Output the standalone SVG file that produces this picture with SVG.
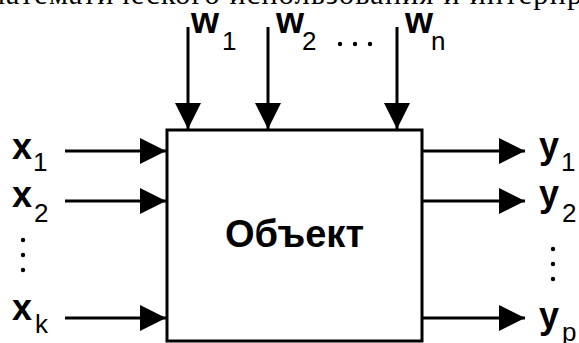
<svg xmlns="http://www.w3.org/2000/svg" width="579" height="343" viewBox="0 0 579 343">
<style>
.top{font-family:"Liberation Serif","Times New Roman",serif;font-size:30px;fill:#000}
.lb{font-family:"Liberation Sans",Arial,sans-serif;font-weight:bold;font-size:36px;fill:#000}
.obj{font-family:"Liberation Sans",Arial,sans-serif;font-weight:bold;font-size:38px;fill:#000}
.sb{font-family:"Liberation Sans",Arial,sans-serif;font-size:26px;fill:#000}
.ln{stroke:#000;stroke-width:3;fill:none;marker-end:url(#ah)}
.box{fill:#fff;stroke:#000;stroke-width:3}
</style>
<defs>
<marker id="ah" markerUnits="userSpaceOnUse" markerWidth="26" markerHeight="26" refX="26" refY="13" orient="auto">
<path d="M0,0 L26,13 L0,26 z" fill="#000"/>
</marker>
</defs>
<rect width="579" height="343" fill="#fff"/>
<text class="top" x="-14" y="4" textLength="596" lengthAdjust="spacing">математического использования и интерпр</text>
<g id="connectors">
<line class="ln" x1="188" y1="27" x2="188" y2="129"/>
<line class="ln" x1="268" y1="27" x2="268" y2="129"/>
<line class="ln" x1="397" y1="27" x2="397" y2="129"/>
<line class="ln" x1="65" y1="151" x2="166" y2="151"/>
<line class="ln" x1="65" y1="201" x2="166" y2="201"/>
<line class="ln" x1="65" y1="318" x2="166" y2="318"/>
<line class="ln" x1="422" y1="151" x2="525" y2="151"/>
<line class="ln" x1="422" y1="201" x2="525" y2="201"/>
<line class="ln" x1="422" y1="318" x2="525" y2="318"/>
</g>
<g id="object">
<rect class="box" x="167" y="130" width="255" height="211"/>
<text class="obj" x="294.5" y="247" text-anchor="middle">Объект</text>
</g>
<g id="w1"><text class="lb" x="191" y="33">w</text><text class="sb" x="222" y="50">1</text></g>
<g id="w2"><text class="lb" x="276" y="33">w</text><text class="sb" x="302" y="50">2</text></g>
<g id="wdots"><circle cx="340" cy="44" r="2.2"/><circle cx="355" cy="44" r="2.2"/><circle cx="370" cy="44" r="2.2"/></g>
<g id="wn"><text class="lb" x="405" y="33">w</text><text class="sb" x="431" y="50">n</text></g>
<g id="x1"><text class="lb" x="12" y="159">x</text><text class="sb" x="33" y="171">1</text></g>
<g id="x2"><text class="lb" x="12" y="207">x</text><text class="sb" x="34" y="222">2</text></g>
<g id="xdots"><circle cx="23" cy="240" r="2.2"/><circle cx="23" cy="255" r="2.2"/><circle cx="23" cy="270" r="2.2"/></g>
<g id="xk"><text class="lb" x="12" y="320">x</text><text class="sb" x="35" y="333">k</text></g>
<g id="y1"><text class="lb" x="539" y="158">y</text><text class="sb" x="561" y="171">1</text></g>
<g id="y2"><text class="lb" x="539" y="206">y</text><text class="sb" x="562" y="222">2</text></g>
<g id="ydots"><circle cx="553" cy="249" r="2.2"/><circle cx="553" cy="264" r="2.2"/><circle cx="553" cy="279" r="2.2"/></g>
<g id="yp"><text class="lb" x="539" y="328">y</text><text class="sb" x="562" y="341">p</text></g>
</svg>
